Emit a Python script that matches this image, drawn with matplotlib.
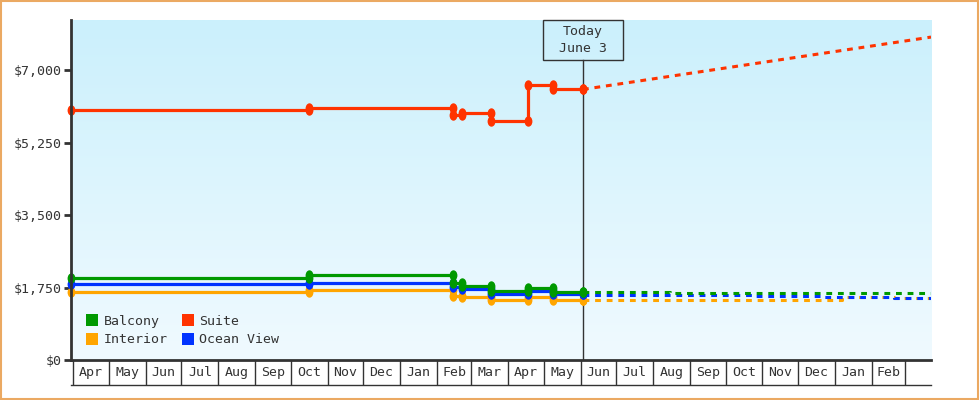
import matplotlib

matplotlib.use("Agg")
import matplotlib.pyplot as plt
import matplotlib.dates as mdates
import matplotlib.transforms as mtransforms
import numpy as np
import pandas as pd
from matplotlib.lines import Line2D
from matplotlib.patches import Rectangle
from matplotlib.path import Path

plt.rcParams['font.family'] = ['DejaVu Sans Mono']
plt.rcParams['font.size'] = 9.5

# price history (value after each change date; last entry = today)
balcony_dates = ['2023-03-30', '2023-10-16', '2024-02-15', '2024-02-22', '2024-03-18', '2024-04-18', '2024-05-09', '2024-06-03']
balcony_prices = [1980, 2050, 1860, 1800, 1665, 1738, 1655, 1655]
ocean_dates = ['2023-03-30', '2023-10-16', '2024-02-15', '2024-02-22', '2024-03-18', '2024-04-18', '2024-05-09', '2024-06-03']
ocean_prices = [1847, 1871, 1762, 1714, 1605, 1666, 1600, 1600]
interior_dates = ['2023-03-30', '2023-10-16', '2024-02-15', '2024-02-22', '2024-03-18', '2024-04-18', '2024-05-09', '2024-06-03']
interior_prices = [1654, 1683, 1545, 1533, 1448, 1514, 1448, 1448]
suite_dates = ['2023-03-30', '2023-10-16', '2024-02-15', '2024-02-22', '2024-03-18', '2024-04-18', '2024-05-09', '2024-06-03']
suite_prices = [6035, 6095, 5915, 5970, 5786, 6655, 6542, 6542]

# forecast after today
balcony_fc_dates = ['2024-06-03', '2024-08-15', '2025-01-07', '2025-03-23']
balcony_fc = [1655, 1625, 1610, 1610]
ocean_fc_dates = ['2024-06-03', '2024-10-27', '2024-12-23', '2025-02-20', '2025-03-23']
ocean_fc = [1580, 1545, 1514, 1489, 1489]
interior_fc_dates = ['2024-06-03', '2024-08-15', '2025-01-07', '2025-02-20', '2025-03-23']
interior_fc = [1440, 1462, 1512, 1489, 1489]
suite_fc_dates = ['2024-06-03', '2025-03-23']
suite_fc = [6542, 7807]

today = pd.Timestamp('2024-06-03')
x_start = pd.Timestamp('2023-03-30')
x_end = pd.Timestamp('2025-03-23')
y_ticks = [0, 1750, 3500, 5250, 7000]
y_max = 8220

colors = {'Balcony': '#009900', 'Suite': '#ff3300', 'Interior': '#ffa500', 'Ocean View': '#0033ff'}
ink = '#333333'

# tall rounded marker like the original blobs
circ = Path.unit_circle()
blob = Path(circ.vertices * [0.75, 1.0], circ.codes)


def step_points(dates, prices):
    d = pd.to_datetime(dates)
    xs, ys = [d[0]], [prices[0]]
    for i in range(1, len(d)):
        xs += [d[i], d[i]]
        ys += [prices[i - 1], prices[i]]
    return xs, ys


fig = plt.figure(figsize=(9.8, 4), dpi=100)
ax = fig.add_axes([71 / 980, 40 / 400, 860 / 980, 340 / 400])

# gradient background (light blue at top, almost white at bottom)
grad = np.linspace(0, 1, 256).reshape(-1, 1)
cmap = matplotlib.colors.LinearSegmentedColormap.from_list('bg', ['#f0faff', '#cbf0fc'])
ax.imshow(grad, aspect='auto', cmap=cmap, extent=[0, 1, 0, 1], origin='lower', transform=ax.transAxes, zorder=0)

series = [
    ('Suite', suite_dates, suite_prices, suite_fc_dates, suite_fc),
    ('Interior', interior_dates, interior_prices, interior_fc_dates, interior_fc),
    ('Ocean View', ocean_dates, ocean_prices, ocean_fc_dates, ocean_fc),
    ('Balcony', balcony_dates, balcony_prices, balcony_fc_dates, balcony_fc),
]
for z, (name, dts, vals, fdts, fvals) in enumerate(series):
    c = colors[name]
    xs, ys = step_points(dts, vals)
    ax.plot(xs, ys, color=c, lw=2.3, marker=blob, ms=7.5, mew=0, zorder=3 + z, clip_on=False)
    fx = pd.to_datetime(fdts)
    ax.plot(fx, fvals, color=c, lw=2.2, ls=(0, (1.9, 1.9)), drawstyle='steps-post' if len(fx) > 2 else 'default', zorder=3 + z)

ax.set_xlim(x_start, x_end)
ax.set_ylim(0, y_max)

# y axis
ax.set_yticks(y_ticks)
ax.set_yticklabels(['$' + format(v, ',') for v in y_ticks], color=ink)
ax.tick_params(axis='y', length=5, width=2, color=ink, pad=2)
for s in ['top', 'right']:
    ax.spines[s].set_visible(False)
for s in ['left', 'bottom']:
    ax.spines[s].set_color(ink)
    ax.spines[s].set_linewidth(2)
    ax.spines[s].set_zorder(10)

# month boxes under the axis
month_starts = pd.date_range('2023-04-01', '2025-03-01', freq='MS')
ax.xaxis.set_major_locator(mdates.MonthLocator())
ax.xaxis.set_major_formatter(matplotlib.ticker.NullFormatter())
ax.tick_params(axis='x', which='major', length=18, width=1, color=ink)
label_pos = [m + (n - m) / 2 for m, n in zip(month_starts[:-1], month_starts[1:])]
ax.xaxis.set_minor_locator(matplotlib.ticker.FixedLocator(mdates.date2num(label_pos)))
ax.xaxis.set_minor_formatter(matplotlib.ticker.FixedFormatter([m.strftime('%b') for m in month_starts[:-1]]))
ax.tick_params(axis='x', which='minor', length=0, pad=9, labelcolor=ink, labelsize=9.5)
for t in ax.xaxis.get_minor_ticks():
    t.label1.set_verticalalignment('center')
ax.add_line(Line2D([0, 1], [-25 / 340, -25 / 340], transform=ax.transAxes, color=ink, lw=1, clip_on=False))

# today marker
btrans = mtransforms.blended_transform_factory(ax.transData, ax.transAxes)
box_h = 40 / 340
ax.axvline(today, ymin=0, ymax=1 - box_h, color=ink, lw=1, zorder=2)
half_w = pd.Timedelta(days=33.6)
ax.add_patch(Rectangle((mdates.date2num(today - half_w), 1 - box_h), mdates.date2num(today + half_w) - mdates.date2num(today - half_w), box_h,
                       transform=btrans, facecolor='none', edgecolor=ink, lw=1, zorder=9, clip_on=False))
ax.text(today, 1 - box_h / 2, 'Today\nJune 3', transform=btrans, ha='center', va='center', color=ink, linespacing=1.3, zorder=9)

# legend
handles = [Line2D([], [], marker='s', ls='none', ms=8, mew=0, color=colors[n]) for n in ['Balcony', 'Interior', 'Suite', 'Ocean View']]
ax.legend(handles, ['Balcony', 'Interior', 'Suite', 'Ocean View'], ncol=2, loc='lower left', bbox_to_anchor=(0.012, 0.025),
          frameon=False, handlelength=0.8, handletextpad=0.5, columnspacing=1.1, labelspacing=0.4, borderaxespad=0,
          labelcolor=ink)

# orange outer border
fig.add_artist(Rectangle((0.001, 0.002), 0.997, 0.995, transform=fig.transFigure, fill=False, edgecolor='#eba962', lw=1.5))

fig.savefig('out.png', dpi=100)
